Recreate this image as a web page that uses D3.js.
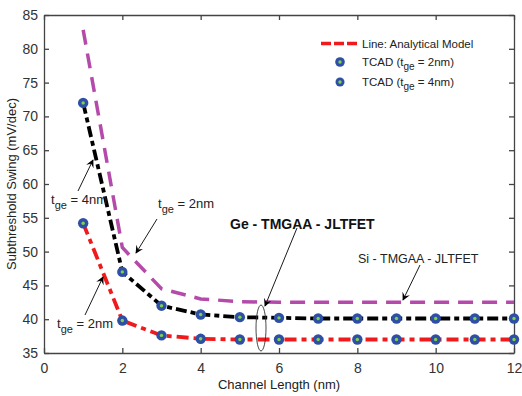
<!DOCTYPE html>
<html><head><meta charset="utf-8">
<script src="https://cdn.jsdelivr.net/npm/d3@7"></script>
<style>body{margin:0;background:#fff}text{font-family:"Liberation Sans",Arial,sans-serif}</style>
</head><body><svg id="c" width="522" height="396"></svg>
<script>
const lengths = [1,2,3,4,5,6,7,8,9,10,11,12];
const ss2nm = [54.2,39.8,37.6,37.1,37.0,37.0,37.0,37.0,37.0,37.0,37.0,37.0];
const ss4nm = [72.0,47.0,42.0,40.7,40.3,40.2,40.1,40.1,40.1,40.1,40.1,40.1];
const siSS  = [82.8,50.6,44.5,43.0,42.6,42.5,42.5,42.5,42.5,42.5,42.5,42.5];
const xTicks = [0,2,4,6,8,10,12];
const yTicks = [35,40,45,50,55,60,65,70,75,80,85];

const svg = d3.select("#c");
const L=44, R=514, T=15, B=353;
const x = d3.scaleLinear().domain([0,12]).range([L,R]);
const y = d3.scaleLinear().domain([35,85]).range([B,T]);
const axisCol="#444";

const gx = svg.append("g").attr("transform",`translate(0,${B})`)
  .call(d3.axisBottom(x).tickValues(xTicks).tickSizeInner(-5).tickSizeOuter(0).tickPadding(10));
const gy = svg.append("g").attr("transform",`translate(${L},0)`)
  .call(d3.axisLeft(y).tickValues(yTicks).tickSizeInner(-5).tickSizeOuter(0).tickPadding(6));
const gx2 = svg.append("g").attr("transform",`translate(0,${T})`)
  .call(d3.axisTop(x).tickValues(xTicks).tickSizeInner(-5).tickSizeOuter(0).tickFormat(""));
const gy2 = svg.append("g").attr("transform",`translate(${R},0)`)
  .call(d3.axisRight(y).tickValues(yTicks).tickSizeInner(-5).tickSizeOuter(0).tickFormat(""));
[gx,gy,gx2,gy2].forEach(g=>{
  g.selectAll("path,line").attr("stroke",axisCol).attr("stroke-width",1.3);
  g.selectAll("text").attr("font-size",14).attr("fill","#333").attr("font-family","Liberation Sans, Arial, sans-serif");
});

const lineStraight = d3.line().x((d,i)=>x(lengths[i])).y(d=>y(d));

svg.append("path").datum(siSS).attr("d",lineStraight).attr("fill","none")
  .attr("stroke","#b44bab").attr("stroke-width",3.5).attr("stroke-dasharray","15,9");
svg.append("path").datum(ss4nm).attr("d",lineStraight).attr("fill","none")
  .attr("stroke","#000").attr("stroke-width",3.8).attr("stroke-dasharray","11,4,5,4");
svg.append("path").datum(ss2nm).attr("d",lineStraight).attr("fill","none")
  .attr("stroke","#f0191c").attr("stroke-width",3.8).attr("stroke-dasharray","12,5,5,5");

function marker(g,cx,cy,r){
  g.append("circle").attr("cx",cx).attr("cy",cy).attr("r",r).attr("fill","#2e4fa6");
  g.append("circle").attr("cx",cx).attr("cy",cy).attr("r",1.7).attr("fill","#7fd04a");
}
const mg = svg.append("g");
[ss2nm,ss4nm].forEach(s=>s.forEach((v,i)=>marker(mg,x(lengths[i]),y(v),5.2)));

svg.append("line").attr("x1",321).attr("x2",358).attr("y1",43.5).attr("y2",43.5)
  .attr("stroke","#f0191c").attr("stroke-width",3.5).attr("stroke-dasharray","10,3");
svg.append("text").attr("x",362).attr("y",48).attr("font-size",11.5).attr("fill","#222").text("Line: Analytical Model");
marker(svg,340,62,4.8);
marker(svg,340,82,4.5);
function tcad(yb,val){
  const t=svg.append("text").attr("x",362).attr("y",yb).attr("font-size",11.5).attr("fill","#222");
  t.append("tspan").text("TCAD (t");
  t.append("tspan").attr("dy",4).attr("font-size",10).text("ge");
  t.append("tspan").attr("dy",-4).text(" = "+val+")");
}
tcad(66,"2nm"); tcad(86,"4nm");

svg.append("text").attr("x",279).attr("y",389).attr("text-anchor","middle").attr("font-size",13).attr("fill","#222").text("Channel Length (nm)");
svg.append("text").attr("transform","translate(16,184) rotate(-90)").attr("text-anchor","middle").attr("font-size",13).attr("fill","#222").text("Subthreshold Swing (mV/dec)");

function tge(xp,yb,val){
  const t=svg.append("text").attr("x",xp).attr("y",yb).attr("font-size",13).attr("fill","#222");
  t.append("tspan").text("t");
  t.append("tspan").attr("dy",5).attr("font-size",11).text("ge");
  t.append("tspan").attr("dy",-5).text(" = "+val);
}
tge(51,204,"4nm");
tge(158,208,"2nm");
tge(57,328,"2nm");

const defs=svg.append("defs");
defs.append("marker").attr("id","ah").attr("viewBox","0 0 10 10").attr("refX",9).attr("refY",5)
  .attr("markerWidth",9).attr("markerHeight",9).attr("orient","auto-start-reverse")
  .append("path").attr("d","M0,0 L10,5 L0,10 L4,5 Z").attr("fill","#000");
function arrow(x1,y1,x2,y2){
  svg.append("line").attr("x1",x1).attr("y1",y1).attr("x2",x2).attr("y2",y2)
    .attr("stroke","#000").attr("stroke-width",0.9).attr("marker-end","url(#ah)");
}
arrow(78,191,93,160);
arrow(157,219,136,253);
arrow(85,315,103,277);
arrow(297,228,265,306);
arrow(420,265,403,300);

svg.append("ellipse").attr("cx",261).attr("cy",328).attr("rx",5).attr("ry",23)
  .attr("fill","none").attr("stroke","#333").attr("stroke-width",0.9);

svg.append("text").attr("x",230).attr("y",229).attr("font-size",14).attr("font-weight","bold").attr("fill","#111").text("Ge - TMGAA - JLTFET");
svg.append("text").attr("x",358).attr("y",263).attr("font-size",12.5).attr("fill","#222").text("Si - TMGAA - JLTFET");
</script></body></html>
